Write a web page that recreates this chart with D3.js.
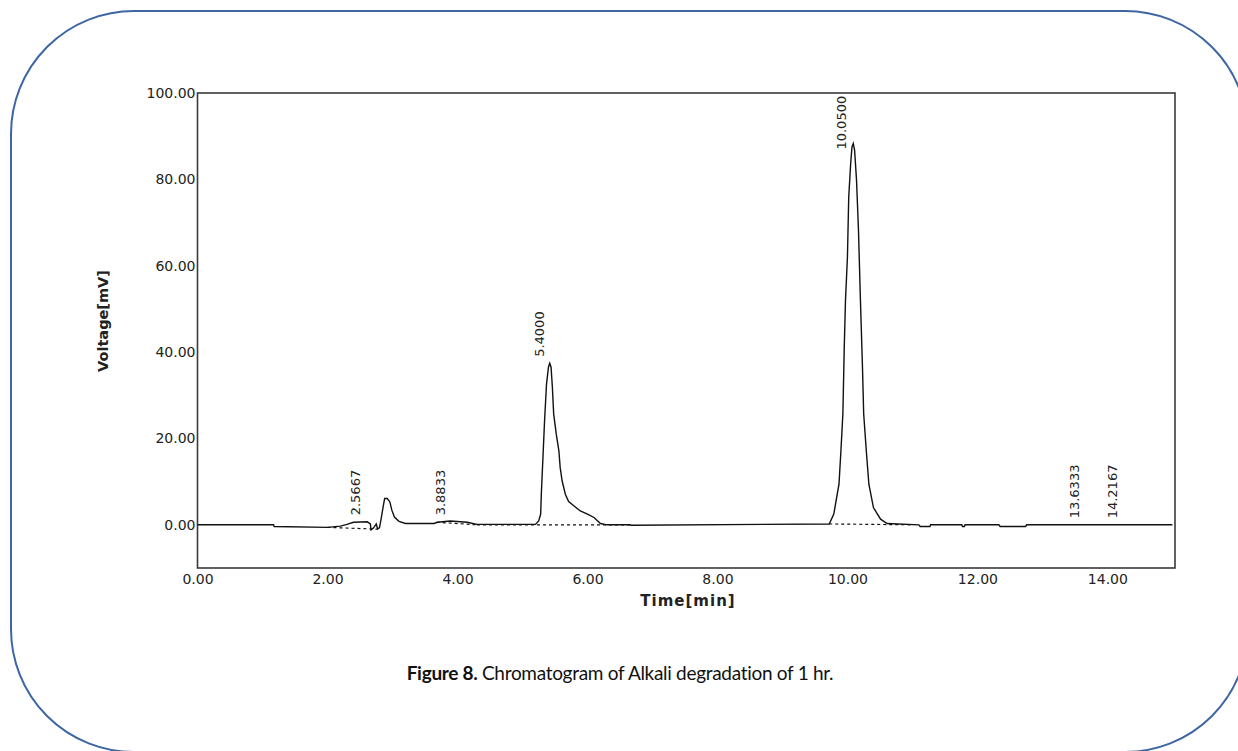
<!DOCTYPE html>
<html>
<head>
<meta charset="utf-8">
<script src="https://cdn.jsdelivr.net/npm/d3@7"></script>
<style>
  body { margin: 0; background: #fff; }
  .tick text { font-family: "DejaVu Sans", sans-serif; font-size: 14px; fill: #222; }
</style>
</head>
<body>
<div id="chart"></div>
<script>
var svgWidth = 1238;
var svgHeight = 751;

// detector trace (time in min, signal in mV)
var times = [0, 1.17, 1.18, 2.0, 2.2, 2.3, 2.4, 2.61, 2.66, 2.67, 2.71, 2.75, 2.77, 2.80,
  2.83, 2.86, 2.88, 2.92, 2.96, 2.99, 3.03, 3.10, 3.20, 3.64, 3.69, 3.89, 4.15, 4.30,
  5.20, 5.25, 5.28, 5.29, 5.32, 5.34, 5.37, 5.40, 5.42, 5.44, 5.46, 5.48, 5.52, 5.56,
  5.58, 5.61, 5.66, 5.71, 5.79, 5.89, 6.00, 6.10, 6.20, 6.30, 6.66, 6.67,
  9.72, 9.79, 9.87, 9.90, 9.93, 9.95, 9.97, 10.00, 10.02, 10.05, 10.07, 10.09, 10.11,
  10.14, 10.17, 10.20, 10.23, 10.25, 10.29, 10.33, 10.40, 10.51, 10.61,
  11.10, 11.12, 11.27, 11.28, 11.76, 11.77, 11.80, 11.81, 12.33, 12.35, 12.74, 12.76, 15.0];
var volts = [0, 0, -0.4, -0.6, -0.3, 0.1, 0.6, 0.7, 0.2, -1.2, -0.7, 0.2, -0.9, -0.7,
  1.8, 4.5, 6.1, 6.1, 5.3, 3.4, 1.8, 0.8, 0.3, 0.3, 0.6, 0.9, 0.6, 0.1,
  0.1, 0.9, 2.5, 7.1, 17.2, 24.1, 32.6, 36.5, 37.4, 36.5, 31.9, 25.7, 21.0, 17.2,
  13.3, 10.2, 7.1, 5.4, 4.4, 3.2, 2.5, 1.7, 0.3, 0, 0, -0.1,
  0.2, 2.5, 9.4, 17.2, 25.7, 40.4, 52.0, 62.0, 75.9, 83.7, 87.5, 88.3, 86.8,
  79.8, 68.2, 52.0, 37.3, 25.7, 17.2, 9.4, 4.0, 1.3, 0.3,
  0, -0.4, -0.4, 0, 0, -0.4, -0.4, 0, 0, -0.4, -0.4, 0, 0];

// dashed integration baselines: start time, start mV, end time, end mV
var baseStart = [2.0, 3.68, 4.30, 9.72];
var baseStartV = [-0.6, 0.6, 0.0, 0.2];
var baseEnd = [2.78, 4.30, 6.66, 11.0];
var baseEndV = [-1.0, 0.0, 0.0, 0.0];

// peak annotations
var peakTimes = [2.5667, 3.8833, 5.4, 10.05, 13.6333, 14.2167];
var peakLabels = ["2.5667", "3.8833", "5.4000", "10.0500", "13.6333", "14.2167"];
var labelLevels = [2.2, 2.2, 38.9, 86.9, 1.5, 1.5];

var xTicks = [0, 2, 4, 6, 8, 10, 12, 14];
var yTicks = [0, 20, 40, 60, 80, 100];

var plot = { left: 197.5, right: 1175, top: 93, bottom: 568 };

var svg = d3.select("#chart")
  .append("svg")
  .attr("width", svgWidth)
  .attr("height", svgHeight);

// rounded blue frame round the figure
svg.append("rect")
  .attr("x", 11)
  .attr("y", 11)
  .attr("width", 1237)
  .attr("height", 741)
  .attr("rx", 123)
  .attr("ry", 123)
  .attr("fill", "none")
  .attr("stroke", "#3d66a3")
  .attr("stroke-width", 2);

var xScale = d3.scaleLinear()
  .domain([0, 15.04])
  .range([plot.left, plot.right]);

var yScale = d3.scaleLinear()
  .domain([-10, 100])
  .range([plot.bottom, plot.top]);

// axes, labels only
var xAxis = svg.append("g")
  .attr("transform", `translate(0, ${plot.bottom})`)
  .call(d3.axisBottom(xScale).tickValues(xTicks).tickFormat(d3.format(".2f"))
    .tickSize(0).tickPadding(6));

var yAxis = svg.append("g")
  .attr("transform", `translate(${plot.left}, 0)`)
  .call(d3.axisLeft(yScale).tickValues(yTicks).tickFormat(d3.format(".2f"))
    .tickSize(0).tickPadding(2));

svg.selectAll(".domain").remove();

// plot frame
svg.append("rect")
  .attr("x", plot.left)
  .attr("y", plot.top)
  .attr("width", plot.right - plot.left)
  .attr("height", plot.bottom - plot.top)
  .attr("fill", "none")
  .attr("stroke", "#3a3a3a")
  .attr("stroke-width", 1.6);

// dashed baselines
svg.selectAll(".baseline")
  .data(baseStart)
  .enter()
  .append("line")
  .attr("class", "baseline")
  .attr("x1", (d, i) => xScale(d))
  .attr("y1", (d, i) => yScale(baseStartV[i]))
  .attr("x2", (d, i) => xScale(baseEnd[i]))
  .attr("y2", (d, i) => yScale(baseEndV[i]))
  .attr("stroke", "#111")
  .attr("stroke-width", 1.2)
  .attr("stroke-dasharray", "3,3");

// the trace
var line = d3.line()
  .x((d, i) => xScale(times[i]))
  .y(d => yScale(d));

svg.append("path")
  .datum(volts)
  .attr("d", line)
  .attr("fill", "none")
  .attr("stroke", "#111")
  .attr("stroke-width", 1.4);

// retention time labels, rotated
svg.selectAll(".peakLabel")
  .data(peakTimes)
  .enter()
  .append("text")
  .attr("class", "peakLabel")
  .attr("transform", (d, i) => `translate(${xScale(d) - 4.5}, ${yScale(labelLevels[i])}) rotate(-90)`)
  .attr("text-anchor", "start")
  .attr("font-family", "DejaVu Sans, sans-serif")
  .attr("font-size", 13)
  .attr("fill", "#222")
  .text((d, i) => peakLabels[i]);

// axis titles
svg.append("text")
  .attr("transform", "translate(108, 321) rotate(-90)")
  .attr("text-anchor", "middle")
  .attr("font-family", "DejaVu Sans, sans-serif")
  .attr("font-weight", "bold")
  .attr("font-size", 14.5)
  .attr("fill", "#222")
  .text("Voltage[mV]");

svg.append("text")
  .attr("x", 688)
  .attr("y", 606)
  .attr("text-anchor", "middle")
  .attr("font-family", "DejaVu Sans, sans-serif")
  .attr("font-weight", "bold")
  .attr("font-size", 15)
  .attr("letter-spacing", 1)
  .attr("fill", "#222")
  .text("Time[min]");

// caption
var caption = svg.append("text")
  .attr("x", 620)
  .attr("y", 680)
  .attr("text-anchor", "middle")
  .attr("font-family", "Lato, sans-serif")
  .attr("font-size", 19)
  .attr("letter-spacing", -0.3)
  .attr("fill", "#111");

caption.append("tspan")
  .attr("font-weight", "bold")
  .text("Figure 8.");

caption.append("tspan")
  .text(" Chromatogram of Alkali degradation of 1 hr.");
</script>
</body>
</html>
